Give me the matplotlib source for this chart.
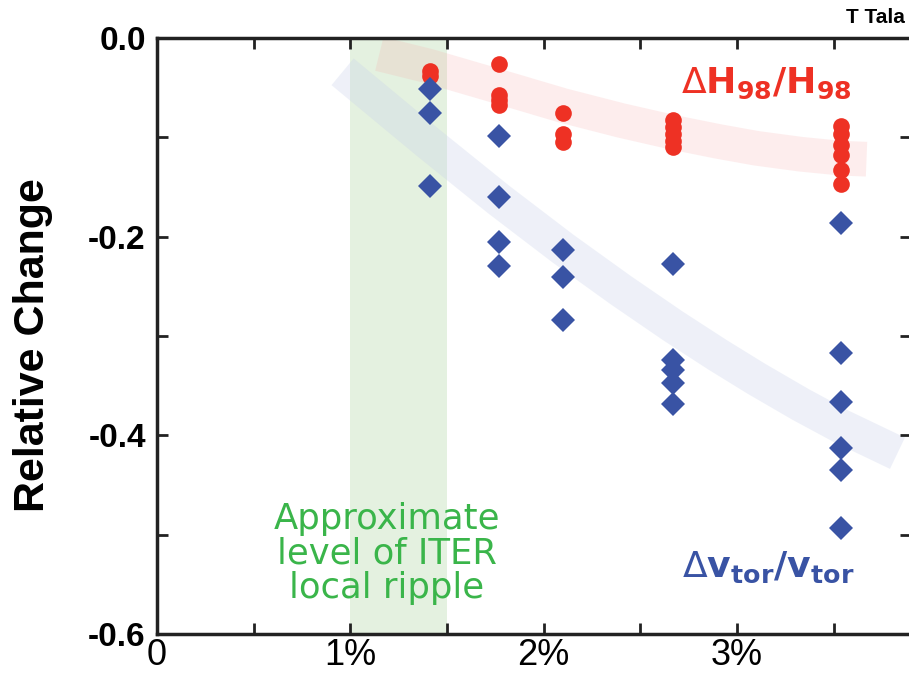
import numpy as np
import matplotlib.pyplot as plt
from matplotlib import font_manager
from matplotlib.ticker import MultipleLocator, FixedLocator

# ripple scan: one column of points per ripple level (%)
ripple = [1.41, 1.77, 2.10, 2.67, 3.54]

# relative change of confinement H98 at each ripple level
dH98 = [
    [-0.033, -0.038],
    [-0.026, -0.057, -0.062, -0.067],
    [-0.075, -0.097, -0.105],
    [-0.083, -0.090, -0.097, -0.104, -0.110],
    [-0.089, -0.097, -0.108, -0.118, -0.133, -0.147],
]

# relative change of toroidal rotation
dvtor = [
    [-0.051, -0.075, -0.149],
    [-0.099, -0.160, -0.205, -0.230],
    [-0.213, -0.241, -0.284],
    [-0.228, -0.324, -0.334, -0.347, -0.368],
    [-0.186, -0.317, -0.366, -0.413, -0.435, -0.493],
]

# hand-drawn trend bands
h98_band_x = [1.15, 1.40, 1.77, 2.10, 2.40, 2.67, 2.90, 3.10, 3.33, 3.54, 3.67]
h98_band_y = [-0.016, -0.028, -0.049, -0.068, -0.083, -0.095, -0.104, -0.111, -0.117, -0.121, -0.122]
vtor_band_x = [0.96, 1.40, 1.77, 2.10, 2.40, 2.67, 2.90, 3.10, 3.33, 3.54, 3.83]
vtor_band_y = [-0.034, -0.105, -0.163, -0.212, -0.254, -0.290, -0.319, -0.343, -0.369, -0.391, -0.418]

# ITER local ripple range (%)
iter_ripple = (1.0, 1.5)

names = {f.name for f in font_manager.fontManager.ttflist}
narrow = "Liberation Sans Narrow" if "Liberation Sans Narrow" in names else "Liberation Sans"

plt.rcParams["font.family"] = ["Liberation Sans", "DejaVu Sans"]
plt.rcParams["mathtext.fontset"] = "dejavusans"
plt.rcParams["axes.unicode_minus"] = False

fig = plt.figure(figsize=(9.09, 6.75), dpi=100)
ax = fig.add_axes([0.1727, 0.0607, 0.8295, 0.883])

ax.axvspan(*iter_ripple, color="#e4f1e0", lw=0, zorder=0)
ax.plot(h98_band_x, h98_band_y, color="#f7a8a8", alpha=0.2, lw=25,
        solid_capstyle="butt", solid_joinstyle="round", zorder=1)
ax.plot(vtor_band_x, vtor_band_y, color="#c8d0ea", alpha=0.3, lw=25,
        solid_capstyle="butt", solid_joinstyle="round", zorder=1)

hx = np.repeat(ripple, [len(c) for c in dH98])
hy = np.concatenate(dH98)
vx = np.repeat(ripple, [len(c) for c in dvtor])
vy = np.concatenate(dvtor)
ax.plot(hx, hy, "o", color="#ee3124", ms=12, mew=0, zorder=3)
ax.plot(vx, vy, "D", color="#3953a4", ms=12.5, mew=0, zorder=4)

ax.set_xlim(0, 3.90)
ax.set_ylim(-0.6, 0.0)

ax.xaxis.set_major_locator(FixedLocator([0, 1, 2, 3]))
ax.xaxis.set_minor_locator(MultipleLocator(0.5))
ax.set_xticklabels(["0", "1%", "2%", "3%"], family=narrow, fontsize=26)
ax.yaxis.set_major_locator(FixedLocator([0.0, -0.2, -0.4, -0.6]))
ax.yaxis.set_minor_locator(MultipleLocator(0.1))
ax.set_yticklabels(["0.0", "-0.2", "-0.4", "-0.6"], fontsize=24, fontweight="bold")

ax.tick_params(which="both", direction="in", top=True, right=True,
               length=8, width=2, color="#222222")
ax.tick_params(axis="x", which="major", pad=3)
ax.tick_params(axis="y", which="major", pad=8)
for side in ["left", "bottom", "top"]:
    ax.spines[side].set_linewidth(2.5)
    ax.spines[side].set_color("#222222")
ax.spines["right"].set_visible(False)

fig.text(0.0363, 0.4889, "Relative Change", rotation=90, ha="center", va="center",
         fontsize=31, fontweight="bold")
fig.text(0.9956, 0.9748, "T Tala", ha="right", va="center", fontsize=15, fontweight="bold")

ax.text(3.594, -0.0554, r"$\Delta\mathbf{H_{98}/H_{98}}$", color="#ee3124",
        fontsize=26, ha="right", va="baseline", zorder=5)
ax.text(3.61, -0.5426, r"$\Delta\mathbf{v_{tor}/v_{tor}}$", color="#3953a4",
        fontsize=26, ha="right", va="baseline", zorder=5)
ax.text(1.19, -0.5185, "Approximate\nlevel of ITER\nlocal ripple", color="#3ab54a",
        fontsize=25.5, family="DejaVu Sans", ha="center", va="center", linespacing=1.02,
        zorder=5)

fig.savefig("out.png", dpi=100)
